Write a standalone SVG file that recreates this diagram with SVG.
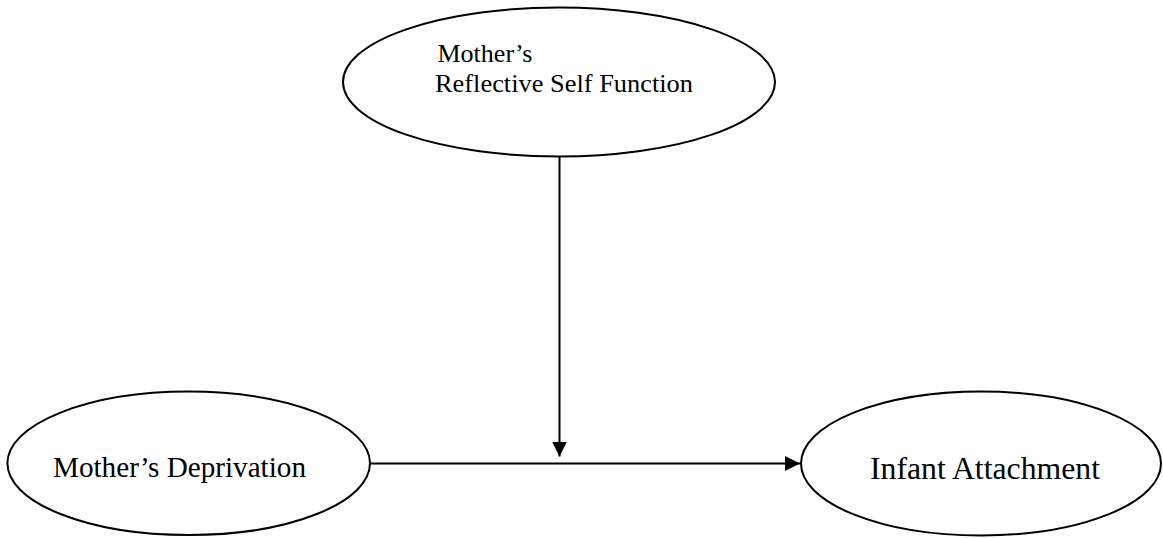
<svg xmlns="http://www.w3.org/2000/svg" width="1163" height="538" viewBox="0 0 1163 538">
  <style>
    .node { fill: #ffffff; stroke: #000000; stroke-width: 2; }
    .label { font-family: "Liberation Serif", "Times New Roman", serif; fill: #000000; }
    .edge { stroke: #000000; stroke-width: 2; fill: none; }
  </style>
  <defs>
    <marker id="arrow" markerUnits="userSpaceOnUse" markerWidth="15" markerHeight="15" refX="15" refY="7.5" orient="auto">
      <path d="M0,0 L15,7.5 L0,15 Z" fill="#000000"/>
    </marker>
  </defs>
  <rect x="0" y="0" width="1163" height="538" fill="#ffffff"/>
  <g id="connectors">
    <line class="edge" x1="559.5" y1="157" x2="559.5" y2="456.5" marker-end="url(#arrow)"/>
    <line class="edge" x1="370" y1="463.5" x2="800" y2="463.5" marker-end="url(#arrow)"/>
  </g>
  <g id="node-reflective">
    <ellipse class="node" cx="559" cy="82" rx="216" ry="74.5"/>
    <text class="label" x="437.5" y="62" font-size="26">Mother’s</text>
    <text class="label" x="435" y="91.7" font-size="26" textLength="258" lengthAdjust="spacingAndGlyphs">Reflective Self Function</text>
  </g>
  <g id="node-deprivation">
    <ellipse class="node" cx="188.7" cy="463.3" rx="181.3" ry="71.7"/>
    <text class="label" x="53" y="476.7" font-size="30" textLength="253" lengthAdjust="spacingAndGlyphs">Mother’s Deprivation</text>
  </g>
  <g id="node-attachment">
    <ellipse class="node" cx="981" cy="463.5" rx="180" ry="72"/>
    <text class="label" x="870" y="478.5" font-size="31" textLength="230" lengthAdjust="spacingAndGlyphs">Infant Attachment</text>
  </g>
</svg>
